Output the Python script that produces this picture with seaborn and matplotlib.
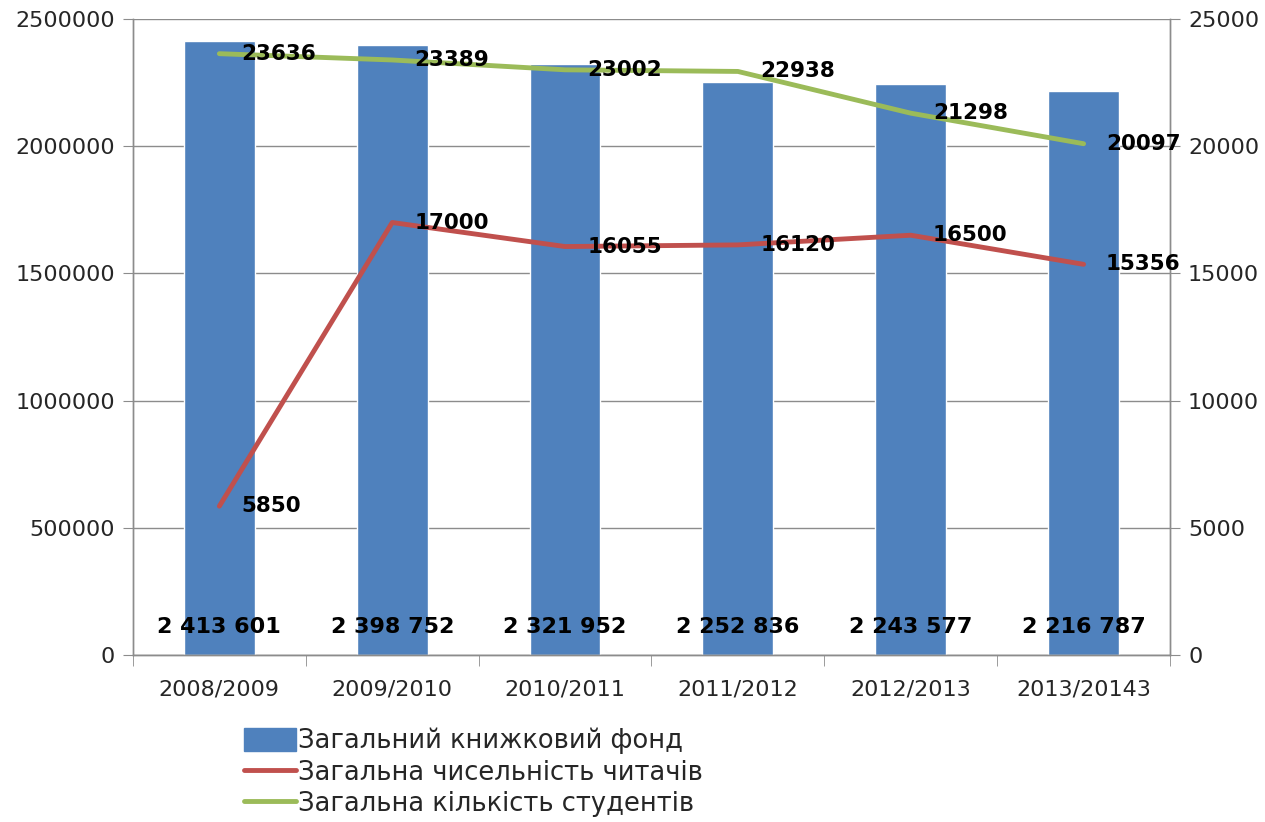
import numpy as np
import pandas as pd
import matplotlib
matplotlib.use('Agg')
import matplotlib.pyplot as plt
import seaborn as sns
from matplotlib.patches import Patch
from matplotlib.lines import Line2D

years = ['2008/2009', '2009/2010', '2010/2011', '2011/2012', '2012/2013', '2013/20143']
book_fund = [2413601, 2398752, 2321952, 2252836, 2243577, 2216787]
book_labels = ['2 413 601', '2 398 752', '2 321 952', '2 252 836', '2 243 577', '2 216 787']
readers = [5850, 17000, 16055, 16120, 16500, 15356]
students = [23636, 23389, 23002, 22938, 21298, 20097]

names = ['Загальний книжковий фонд', 'Загальна чисельність читачів', 'Загальна кількість студентів']
c_bar = '#4F81BD'
c_red = '#C0504D'
c_green = '#9BBB59'

sns.set_style('white')
plt.rcParams['font.family'] = ['DejaVu Sans']

df = pd.DataFrame({'year': years, 'fund': book_fund, 'readers': readers, 'students': students})
df['pos'] = np.arange(len(years))

fig = plt.figure(figsize=(12.65, 8.22), dpi=100)
ax = fig.add_axes([0.1051, 0.2032, 0.8198, 0.7737])

sns.barplot(data=df, x='year', y='fund', color=c_bar, saturation=1, width=0.41, ax=ax)
ax.set_xlim(-0.5, len(years) - 0.5)
ax.set_ylim(0, 2500000)
ax.set_yticks(np.arange(0, 2500001, 500000))
ax.set_yticklabels([str(v) for v in range(0, 2500001, 500000)])
ax.grid(axis='y', color='#8c8c8c', linewidth=1)
ax.set_axisbelow(True)
ax.set_xlabel('')
ax.set_ylabel('')

for i, lab in enumerate(book_labels):
    ax.annotate(lab, (i, 0), xytext=(0, 20), textcoords='offset points',
                ha='center', va='center', fontsize=16, fontweight='bold', color='black')

ax2 = ax.twinx()
sns.lineplot(data=df, x='pos', y='readers', color=c_red, linewidth=3.5, ax=ax2)
sns.lineplot(data=df, x='pos', y='students', color=c_green, linewidth=3.5, ax=ax2)
ax2.set_ylim(0, 25000)
ax2.set_yticks(np.arange(0, 25001, 5000))
ax2.set_ylabel('')
ax2.set_xlim(-0.5, len(years) - 0.5)

for i in range(len(years)):
    ax2.annotate(str(readers[i]), (i, readers[i]), xytext=(16, 0), textcoords='offset points',
                 ha='left', va='center', fontsize=15.5, fontweight='bold', color='black')
    ax2.annotate(str(students[i]), (i, students[i]), xytext=(16, 0), textcoords='offset points',
                 ha='left', va='center', fontsize=15.5, fontweight='bold', color='black')

for a in (ax, ax2):
    for s in a.spines.values():
        s.set_color('#8c8c8c')
        s.set_linewidth(1)
    a.spines['top'].set_visible(False)

ax.set_xticks(np.arange(len(years)))
ax.set_xticklabels(years)
ax.set_xticks(np.arange(-0.5, len(years), 1), minor=True)
ax.tick_params(axis='x', which='major', length=0, pad=18, labelsize=16, labelcolor='#262626')
ax.tick_params(axis='x', which='minor', length=8, color='#8c8c8c', direction='out', bottom=True)
ax.tick_params(axis='y', length=7, color='#8c8c8c', direction='out', left=True, pad=6,
               labelsize=16, labelcolor='#262626')
ax2.tick_params(axis='y', length=7, color='#8c8c8c', direction='out', right=True, pad=6,
                labelsize=16, labelcolor='#262626')

handles = [Patch(facecolor=c_bar, edgecolor=c_bar),
           Line2D([0], [0], color=c_red, linewidth=3.5),
           Line2D([0], [0], color=c_green, linewidth=3.5)]
fig.legend(handles, names, loc='upper left', bbox_to_anchor=(0.185, 0.127), frameon=False,
           fontsize=18.5, handlelength=2.0, handleheight=1.0, handletextpad=0.1,
           labelspacing=0.2, borderaxespad=0)

fig.savefig('out.png', dpi=100)
